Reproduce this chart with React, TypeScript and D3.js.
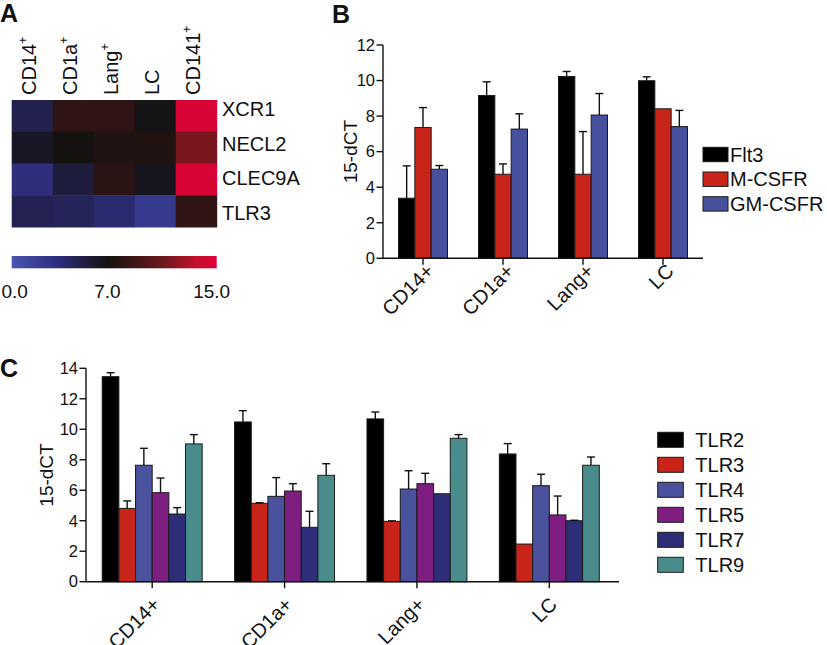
import React from "react";
import * as d3 from "d3";

// ---------- Panel A data ----------
const heatCols = ["CD14", "CD1a", "Lang", "LC", "CD141"];
const heatColSup = ["+", "+", "+", "", "+"];
const heatRows = ["XCR1", "NECL2", "CLEC9A", "TLR3"];
const heatValues = [
  [5.0, 8.2, 8.2, 6.8, 14.6],
  [6.3, 7.0, 7.6, 7.6, 11.4],
  [3.3, 5.5, 8.0, 6.5, 14.6],
  [4.8, 4.6, 3.8, 2.3, 8.3],
];
const colorStops = [0, 3.5, 7, 11, 13.5, 15];
const colorRange = ["#4a55b0", "#2c2c7a", "#141210", "#6a1a1c", "#c4102a", "#e0003a"];
const colorbarTicks = [0, 7, 15];

// ---------- Panel B data ----------
const bCats = ["CD14+", "CD1a+", "Lang+", "LC"];
const bSeries = ["Flt3", "M-CSFR", "GM-CSFR"];
const bColors = ["#000000", "#c8241a", "#46509c"];
const bMeans = [
  [3.38, 9.16, 10.23, 9.99],
  [7.36, 4.73, 4.73, 8.41],
  [5.01, 7.27, 8.06, 7.41],
];
const bErr = [
  [1.82, 0.77, 0.28, 0.22],
  [1.12, 0.58, 2.4, 0],
  [0.21, 0.86, 1.21, 0.91],
];
const bTicks = [0, 2, 4, 6, 8, 10, 12];

// ---------- Panel C data ----------
const cCats = ["CD14+", "CD1a+", "Lang+", "LC"];
const cSeries = ["TLR2", "TLR3", "TLR4", "TLR5", "TLR7", "TLR9"];
const cColors = ["#000000", "#c8241a", "#4a529e", "#7e1e80", "#2e2e78", "#4a8c8c"];
const cMeans = [
  [13.45, 10.48, 10.68, 8.38],
  [4.81, 5.14, 3.96, 2.47],
  [7.64, 5.6, 6.08, 6.3],
  [5.84, 5.95, 6.43, 4.38],
  [4.44, 3.57, 5.77, 4.0],
  [9.04, 6.98, 9.41, 7.64],
];
const cErr = [
  [0.26, 0.74, 0.45, 0.68],
  [0.49, 0.04, 0.03, 0],
  [1.11, 1.23, 1.2, 0.75],
  [0.96, 0.48, 0.68, 1.24],
  [0.42, 1.05, 0, 0.03],
  [0.61, 0.76, 0.24, 0.54],
];
const cTicks = [0, 2, 4, 6, 8, 10, 12, 14];

const FONT = "'Liberation Sans', Arial, Helvetica, sans-serif";

function BarPanel(props: {
  cats: string[];
  series: string[];
  colors: string[];
  means: number[][];
  errs: number[][];
  ticks: number[];
  yMax: number;
  x0: number;
  x1: number;
  axisEnd: number;
  yTop: number;
  yBase: number;
  padInner: number;
  labelDx: number;
  labelDy: number;
  yLabelX: number;
}) {
  const { cats, series, colors, means, errs, ticks, yMax, x0, x1, axisEnd, yTop, yBase, padInner, labelDx, labelDy, yLabelX } = props;
  const y = d3.scaleLinear().domain([0, yMax]).range([yBase, yTop]);
  const x = d3.scaleBand<string>().domain(cats).range([x0, x1]).paddingInner(padInner).paddingOuter(padInner / 2);
  const xi = d3.scaleBand<string>().domain(series).range([0, x.bandwidth()]);
  const bw = xi.bandwidth();
  const capW = 8;
  return (
    <g fontFamily={FONT}>
      {series.map((s, si) =>
        cats.map((c, ci) => {
          const bx = (x(c) as number) + (xi(s) as number);
          const v = means[si][ci];
          return (
            <rect
              key={s + c}
              x={bx}
              y={y(v)}
              width={bw}
              height={yBase - y(v)}
              fill={colors[si]}
              stroke="#1a1a1a"
              strokeWidth={1}
            />
          );
        })
      )}
      {series.map((s, si) =>
        cats.map((c, ci) => {
          const e = errs[si][ci];
          if (e <= 0) return null;
          const cx = (x(c) as number) + (xi(s) as number) + bw / 2;
          const v = means[si][ci];
          return (
            <g key={"e" + s + c} stroke="#111" strokeWidth={1.4}>
              <line x1={cx} x2={cx} y1={y(v)} y2={y(v + e)} />
              <line x1={cx - capW / 2} x2={cx + capW / 2} y1={y(v + e)} y2={y(v + e)} />
            </g>
          );
        })
      )}
      {/* y axis */}
      <line x1={x0} x2={x0} y1={yTop} y2={yBase} stroke="#111" strokeWidth={1.4} />
      {ticks.map((t) => (
        <g key={"t" + t}>
          <line x1={x0 - 6.5} x2={x0} y1={y(t)} y2={y(t)} stroke="#111" strokeWidth={1.4} />
          <text x={x0 - 8} y={y(t)} dy="0.35em" textAnchor="end" fontSize={16.5} fill="#111">
            {t}
          </text>
        </g>
      ))}
      {/* x axis */}
      <line x1={x0} x2={axisEnd} y1={yBase} y2={yBase} stroke="#111" strokeWidth={1.4} />
      {cats.map((c) => {
        const cx = (x(c) as number) + x.bandwidth() / 2;
        return (
          <g key={"xc" + c}>
            <line x1={cx} x2={cx} y1={yBase} y2={yBase + 6.5} stroke="#111" strokeWidth={1.4} />
            <text
              transform={`translate(${cx + labelDx},${yBase + labelDy}) rotate(-45)`}
              textAnchor="end"
              fontSize={20}
              fill="#111"
            >
              {c}
            </text>
          </g>
        );
      })}
      <text
        transform={`translate(${yLabelX},${(yTop + yBase) / 2}) rotate(-90)`}
        textAnchor="middle"
        fontSize={19}
        fill="#111"
      >
        15-dCT
      </text>
    </g>
  );
}

function Legend(props: { series: string[]; colors: string[]; x: number; y: number; step: number; boxW: number; boxH: number; gap: number }) {
  const { series, colors, x, y, step, boxW, boxH, gap } = props;
  return (
    <g fontFamily={FONT}>
      {series.map((s, i) => (
        <g key={s}>
          <rect x={x} y={y + i * step} width={boxW} height={boxH} fill={colors[i]} stroke="#1a1a1a" strokeWidth={1} />
          <text x={x + boxW + gap} y={y + i * step + boxH / 2} dy="0.36em" fontSize={20} fill="#111">
            {s}
          </text>
        </g>
      ))}
    </g>
  );
}

export default function App() {
  // heatmap
  const hx = d3.scaleBand<string>().domain(heatCols).range([11.7, 216.7]);
  const hy = d3.scaleBand<string>().domain(heatRows).range([100, 227]);
  const hyLabel = d3.scaleBand<string>().domain(heatRows).range([92, 230]);
  const color = d3.scaleLinear<string>().domain(colorStops).range(colorRange).interpolate(d3.interpolateRgb);
  const cb = d3.scaleLinear().domain([0, 15]).range([11.7, 216.7]);
  const cbLabelDx = [3, 0, -5];

  return (
    <svg width={827} height={645} style={{ position: "absolute", left: 0, top: 0, background: "#fff" }}>
      <defs>
        <linearGradient id="cbGrad" x1="0" x2="1" y1="0" y2="0">
          {colorStops.map((s, i) => (
            <stop key={i} offset={`${(s / 15) * 100}%`} stopColor={colorRange[i]} />
          ))}
        </linearGradient>
      </defs>
      {/* Panel letters */}
      <g fontFamily={FONT} fontWeight="bold" fontSize={25} fill="#111">
        <text x={0} y={22}>A</text>
        <text x={332} y={23}>B</text>
        <text x={0} y={377}>C</text>
      </g>

      {/* Panel A heatmap */}
      <g fontFamily={FONT}>
        {heatRows.map((r, ri) =>
          heatCols.map((c, ci) => (
            <rect
              key={r + c}
              x={hx(c)}
              y={hy(r)}
              width={hx.bandwidth() + 0.5}
              height={hy.bandwidth() + 0.5}
              fill={color(heatValues[ri][ci])}
            />
          ))
        )}
        {heatCols.map((c, ci) => (
          <text
            key={"hc" + c}
            transform={`translate(${(hx(c) as number) + hx.bandwidth() / 2 + 4},95) rotate(-90)`}
            fontSize={20}
            fill="#111"
          >
            {c}
            {heatColSup[ci] && (
              <tspan fontSize={12} dy={-9}>
                {heatColSup[ci]}
              </tspan>
            )}
          </text>
        ))}
        {heatRows.map((r) => (
          <text key={"hr" + r} x={222} y={(hyLabel(r) as number) + hyLabel.bandwidth() / 2} dy="0.36em" fontSize={20} fill="#111">
            {r}
          </text>
        ))}
        {/* colorbar */}
        <rect x={cb(0)} y={256} width={cb(15) - cb(0)} height={12.3} fill="url(#cbGrad)" />
        {colorbarTicks.map((t, i) => (
          <text key={"cbt" + t} x={cb(t)} dx={cbLabelDx[i]} y={298} textAnchor="middle" fontSize={19} fill="#111">
            {t.toFixed(1)}
          </text>
        ))}
      </g>

      {/* Panel B */}
      <BarPanel
        cats={bCats}
        series={bSeries}
        colors={bColors}
        means={bMeans}
        errs={bErr}
        ticks={bTicks}
        yMax={12}
        x0={383}
        x1={703}
        axisEnd={703}
        yTop={45}
        yBase={258.3}
        padInner={0.3875}
        labelDx={12}
        labelDy={14}
        yLabelX={357}
      />
      <Legend series={bSeries} colors={bColors} x={703} y={147.3} step={24.7} boxW={25} boxH={14.4} gap={2} />

      {/* Panel C */}
      <BarPanel
        cats={cCats}
        series={cSeries}
        colors={cColors}
        means={cMeans}
        errs={cErr}
        ticks={cTicks}
        yMax={14}
        x0={86}
        x1={615.5}
        axisEnd={619}
        yTop={368.3}
        yBase={581.7}
        padInner={0.245}
        labelDx={9}
        labelDy={24}
        yLabelX={53}
      />
      <Legend series={cSeries} colors={cColors} x={657.7} y={432.3} step={25} boxW={25.6} boxH={15} gap={12} />
    </svg>
  );
}
